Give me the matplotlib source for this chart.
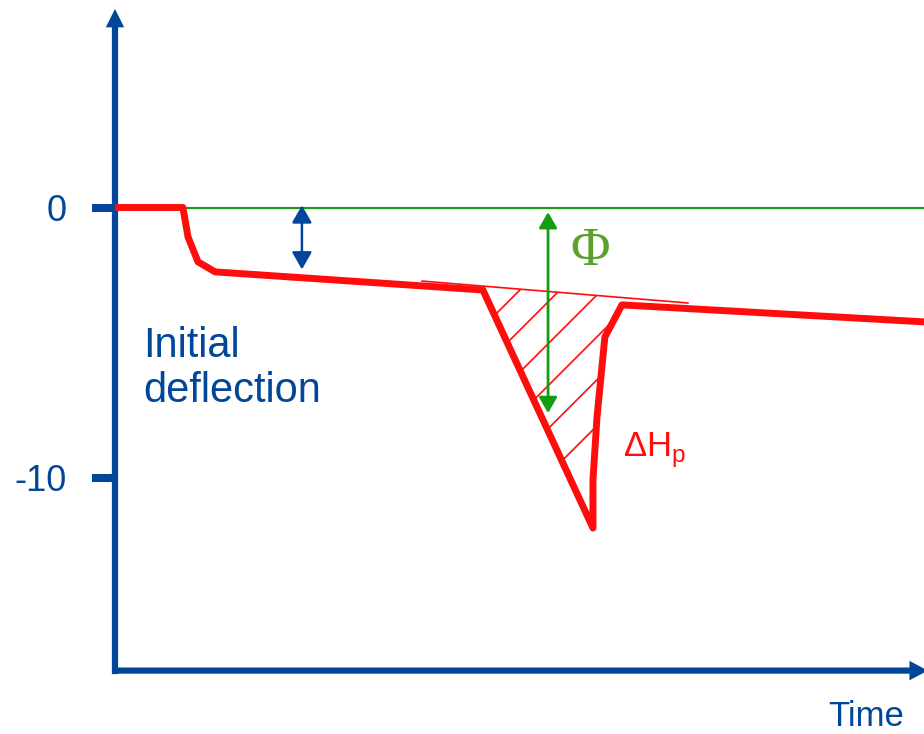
import numpy as np
import matplotlib.pyplot as plt
from matplotlib.patches import Polygon, FancyArrowPatch

plt.rcParams['font.family'] = ['Liberation Sans', 'DejaVu Sans']

BLUE = '#00479a'
RED = '#ff0d0d'
GREEN = '#149c14'
PHI_GREEN = '#5aa22c'

# deflection curve (time, deflection)
curve_t = [0.0, 2.51, 2.70, 3.07, 3.70, 13.60, 17.67, 17.67, 17.82, 18.11, 18.74, 30.3]
curve_y = [0.0, 0.0, -1.09, -2.01, -2.38, -3.05, -11.85, -10.07, -7.74, -4.79, -3.60, -4.25]

# extrapolated trend line over the peak
trend_t = [11.35, 21.18]
trend_y = [-2.72, -3.53]

# hatch offsets (t - y) for the peak area
hatch_k = [18.02, 19.50, 21.05, 22.60, 24.19, 25.89]

yticks = [0, -10]
ytick_labels = ['0', '-10']

fig = plt.figure(figsize=(9.24, 7.34), dpi=100)
ax = fig.add_axes([0, 0, 1, 1])
ax.set_xlim(-4.251, 29.908)
ax.set_ylim(-19.464, 7.671)

for s in ax.spines.values():
    s.set_visible(False)
ax.spines['left'].set_position(('data', 0))
ax.set_xticks([])
ax.set_yticks(yticks)
ax.set_yticklabels(ytick_labels)
ax.tick_params(axis='y', direction='out', length=16.5, width=5.8, color=BLUE,
               labelcolor=BLUE, labelsize=26, pad=18)

# axes with arrows
ax.arrow(0, -17.25, 0, 7.34 + 17.25, width=0.23, head_width=0.68, head_length=0.68,
         length_includes_head=True, color=BLUE, lw=0, zorder=3)
ax.arrow(-0.11, -17.12, 30.05 + 0.11, 0, width=0.23, head_width=0.72, head_length=0.68,
         length_includes_head=True, color=BLUE, lw=0, zorder=3)

# zero reference line
ax.plot([2.3, 30.5], [0, 0], color=GREEN, lw=1.5, zorder=2)

# hatched peak area
top_t = [curve_t[5], curve_t[10]]
top_y = list(np.interp(top_t, trend_t, trend_y))
poly_pts = [(top_t[0], top_y[0])] + list(zip(curve_t[5:11], curve_y[5:11])) + [(top_t[1], top_y[1])]
poly = Polygon(poly_pts, closed=True, fill=False, edgecolor='none')
ax.add_patch(poly)
ht = np.array([12.0, 21.0])
for k in hatch_k:
    ln, = ax.plot(ht, ht - k, color=RED, lw=1.2, zorder=2)
    ln.set_clip_path(poly)

ax.plot(trend_t, trend_y, color=RED, lw=1.2, zorder=2)
ax.plot(curve_t, curve_y, color=RED, lw=5.0, zorder=4, solid_capstyle='butt')

# double arrows
ax.add_patch(FancyArrowPatch((6.91, 0.08), (6.91, -2.29),
                             arrowstyle='<|-|>,head_length=10.5,head_width=6',
                             mutation_scale=1, shrinkA=0, shrinkB=0,
                             color=BLUE, lw=1.8, zorder=5))
ax.add_patch(FancyArrowPatch((16.01, -0.17), (16.01, -7.60),
                             arrowstyle='<|-|>,head_length=9.5,head_width=5.5',
                             mutation_scale=1, shrinkA=0, shrinkB=0,
                             color=GREEN, lw=2.0, zorder=5))

# labels
ax.text(1.04, -5.53, 'Initial', color=BLUE, fontsize=30, va='baseline', ha='left')
ax.text(1.04, -7.19, 'deflection', color=BLUE, fontsize=30, va='baseline', ha='left')
ax.text(16.82, -2.13, '\u03a6', color=PHI_GREEN, fontsize=39, va='baseline', ha='left',
        family=['Liberation Serif', 'DejaVu Serif'])
ax.text(18.78, -9.22, '\u0394H$_{\\mathregular{p}}$', color=RED, fontsize=25,
        va='baseline', ha='left')
ax.text(26.36, -19.15, 'Time', color=BLUE, fontsize=25, va='baseline', ha='left')

fig.savefig('out.png', dpi=100)
